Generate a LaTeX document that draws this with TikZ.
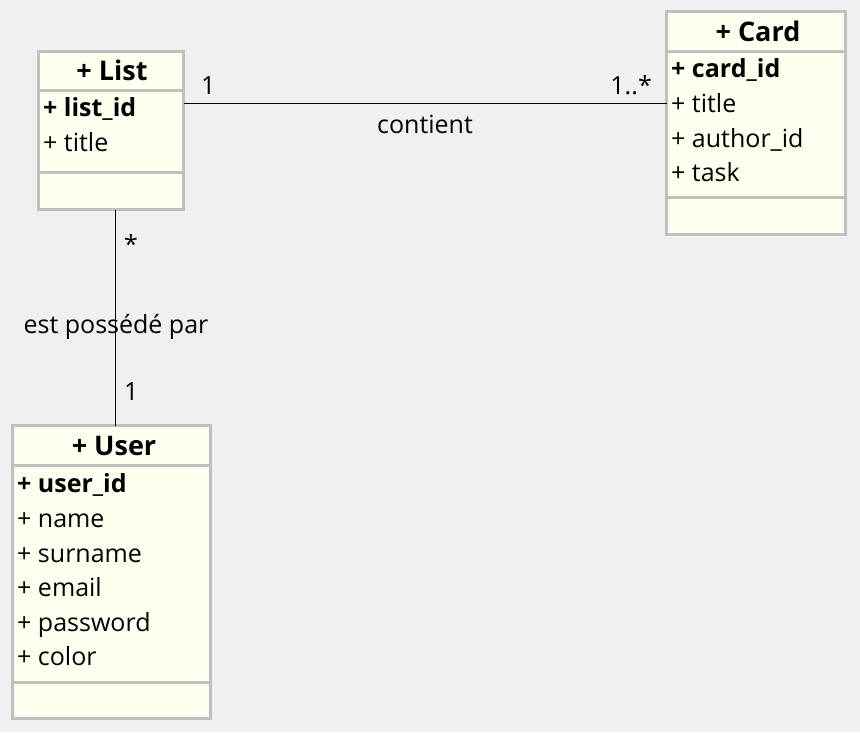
\documentclass[tikz,border=0pt]{standalone}
\usepackage{fontspec}
\setmainfont{Open Sans}
\definecolor{canvas}{RGB}{240,240,240}
\definecolor{boxfill}{RGB}{255,255,240}
\definecolor{boxline}{RGB}{192,192,192}
\tikzset{
    classbox/.style={rectangle, draw=boxline, fill=boxfill, line width=3pt, inner sep=0pt, outer sep=0pt, anchor=north west},
    boxsep/.style={draw=boxline, line width=3pt},
    classname/.style={inner sep=0pt, anchor=base, font=\fontsize{27}{31}\selectfont\bfseries},
    attr/.style={inner sep=0pt, anchor=base west, font=\fontsize{25}{29}\selectfont},
    keyattr/.style={attr, font=\fontsize{25}{29}\selectfont\bfseries},
    mult/.style={inner sep=0pt, font=\fontsize{25}{29}\selectfont},
    assoc/.style={draw=black, line width=1pt}
}

\begin{document}
\begin{tikzpicture}[x=1pt, y=-1pt]
  \useasboundingbox[fill=canvas] (0,0) rectangle (860,732);

  % classes
  \node (list) [classbox, minimum width=145pt, minimum height=158pt] at (38.5,51.5) {};
  \node (card) [classbox, minimum width=179pt, minimum height=223pt] at (666.5,11.5) {};
  \node (user) [classbox, minimum width=198pt, minimum height=293pt] at (12.5,425.5) {};

  \draw[boxsep] (list.west |- 0,90) -- (list.east |- 0,90);
  \draw[boxsep] (list.west |- 0,172) -- (list.east |- 0,172);
  \draw[boxsep] (card.west |- 0,51) -- (card.east |- 0,51);
  \draw[boxsep] (card.west |- 0,197) -- (card.east |- 0,197);
  \draw[boxsep] (user.west |- 0,465) -- (user.east |- 0,465);
  \draw[boxsep] (user.west |- 0,682) -- (user.east |- 0,682);

  \node (listname) [classname] at (112,80) {+ List};
  \node (listid) [keyattr] at (43,116) {+ list\_id};
  \node (listtitle) [attr] at (43,151) {+ title};

  \node (cardname) [classname] at (758,41) {+ Card};
  \node (cardid) [keyattr] at (671,77) {+ card\_id};
  \node (cardtitle) [attr] at (671,112) {+ title};
  \node (cardauthor) [attr] at (671,147) {+ author\_id};
  \node (cardtask) [attr] at (671,181) {+ task};

  \node (username) [classname] at (114,455) {+ User};
  \node (userid) [keyattr] at (17,492) {+ user\_id};
  \node (username2) [attr] at (17,527) {+ name};
  \node (usersurname) [attr] at (17,562) {+ surname};
  \node (useremail) [attr] at (17,596) {+ email};
  \node (userpassword) [attr] at (17,631) {+ password};
  \node (usercolor) [attr] at (17,665) {+ color};

  % associations
  \draw[assoc] (list.east |- 0,103) -- (card.west |- 0,103);
  \draw[assoc] (list.south -| 115,0) -- (user.north -| 115,0);

  \node (m1) [mult, anchor=base west] at (201,94) {1};
  \node (m2) [mult, anchor=base east] at (652,94) {1..*};
  \node (contient) [mult, anchor=base] at (425,133) {contient};
  \node (m3) [mult, anchor=base west] at (124,253) {*};
  \node (possede) [mult, anchor=base] at (116,333) {est possédé par};
  \node (m4) [mult, anchor=base west] at (124,400) {1};
\end{tikzpicture}
\end{document}
